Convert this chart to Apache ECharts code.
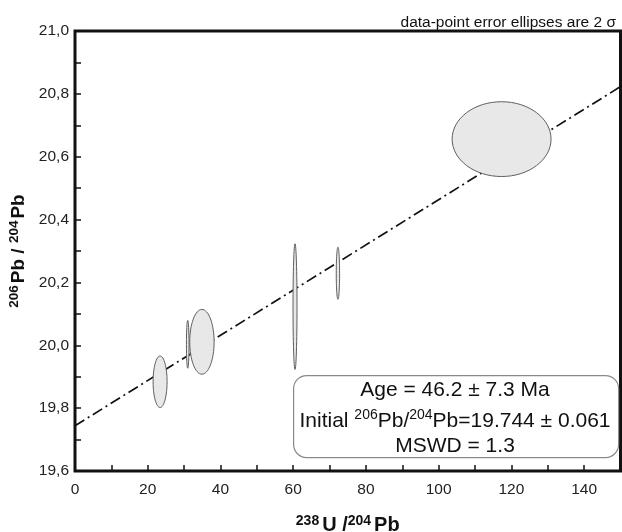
<!DOCTYPE html>
<html>
<head>
<meta charset="utf-8">
<script src="https://cdn.jsdelivr.net/npm/echarts@6/dist/echarts.min.js"></script>
<style>html,body{margin:0;padding:0;background:#fff}#c{width:622px;height:532px}</style>
</head>
<body>
<div id="c"></div>
<script>
// Error ellipses: centre (x, y) and 2-sigma semi-axes (rx, ry) in data units
var ellipseX  = [23.4, 31.0, 34.9, 60.5, 72.3, 117.3];
var ellipseY  = [19.884, 20.003, 20.011, 20.123, 20.229, 20.656];
var ellipseRx = [1.92, 0.36, 3.35, 0.55, 0.46, 13.6];
var ellipseRy = [0.082, 0.076, 0.103, 0.200, 0.083, 0.119];
// Isochron line endpoints
var lineData = [[0, 19.744], [150, 20.823]];
// Axis ranges / ticks
var xMin = 0, xMax = 150, xStep = 10, xLabelStep = 20;
var yMin = 19.6, yMax = 21.0, yStep = 0.1;

var FONT = "'Liberation Sans', Arial, Helvetica, sans-serif";

var ellipseData = ellipseX.map(function (x, i) {
  return [x, ellipseY[i], ellipseRx[i], ellipseRy[i]];
});

var chart = echarts.init(document.getElementById('c'), null, {renderer: 'canvas'});

var option = {
  backgroundColor: '#fff',
  animation: false,
  grid: {
    left: 75, right: 1.5, top: 31, bottom: 61,
    containLabel: false, outerBoundsMode: 'none',
    show: true, borderColor: '#111', borderWidth: 3, backgroundColor: 'transparent'
  },
  title: {
    text: 'data-point error ellipses are 2 σ',
    right: 1, top: 10,
    textStyle: {fontFamily: FONT, fontSize: 15.5, fontWeight: 'normal', color: '#111'}
  },
  xAxis: {
    type: 'value', min: xMin, max: xMax, interval: xStep,
    axisLine: {show: false},
    axisTick: {show: true, inside: true, length: 6, lineStyle: {color: '#111', width: 1.5}},
    splitLine: {show: false},
    axisLabel: {
      margin: 11, color: '#222', fontFamily: FONT, fontSize: 15.5,
      formatter: function (v) {
        return (Math.round(v) % xLabelStep === 0 && v < xMax) ? String(Math.round(v)) : '';
      }
    },
    name: '{sup|238}{m|U /}{sup|204}{m|Pb}',
    nameLocation: 'middle', nameGap: 43,
    nameTextStyle: {
      rich: {
        sup: {fontFamily: FONT, fontSize: 14, fontWeight: 'bold', color: '#111', verticalAlign: 'top', padding: [0, 3, 0, 0], lineHeight: 22},
        m: {fontFamily: FONT, fontSize: 20, fontWeight: 'bold', color: '#111', lineHeight: 22}
      }
    }
  },
  yAxis: {
    type: 'value', min: yMin, max: yMax, interval: yStep,
    axisLine: {show: false},
    axisTick: {show: true, inside: true, length: 6, lineStyle: {color: '#111', width: 1.5}},
    splitLine: {show: false},
    axisLabel: {
      margin: 6, color: '#222', fontFamily: FONT, fontSize: 15.5,
      formatter: function (v) {
        var k = Math.round(v * 10);
        return (k % 2 === 0) ? (k / 10).toFixed(1).replace('.', ',') : '';
      }
    },
    name: '{sup|206}{m|Pb / }{sup|204}{m|Pb}',
    nameLocation: 'middle', nameGap: 43, nameRotate: 90,
    nameTextStyle: {
      rich: {
        sup: {fontFamily: FONT, fontSize: 13.5, fontWeight: 'bold', color: '#111', verticalAlign: 'top', padding: [0, 2, 0, 0], lineHeight: 22},
        m: {fontFamily: FONT, fontSize: 19, fontWeight: 'bold', color: '#111', lineHeight: 22}
      }
    }
  },
  series: [
    {
      type: 'line', data: lineData, symbol: 'none', z: 2, silent: true,
      lineStyle: {color: '#111', width: 1.7, type: [11, 4, 2, 4]}
    },
    {
      type: 'custom', z: 3, silent: true,
      data: ellipseData,
      renderItem: function (params, api) {
        var c = api.coord([api.value(0), api.value(1)]);
        var s = api.size([api.value(2), api.value(3)]);
        return {
          type: 'ellipse',
          shape: {cx: c[0], cy: c[1], rx: s[0], ry: s[1]},
          style: {fill: '#e8e8e8', stroke: '#5e5e5e', lineWidth: 1}
        };
      }
    }
  ],
  graphic: [
    {
      type: 'rect', left: 293, top: 375, z: 10,
      shape: {width: 325, height: 82, r: 13},
      style: {fill: '#fff', stroke: '#8a8a8a', lineWidth: 1.2}
    },
    {
      type: 'text', z: 11, x: 455, y: 390,
      style: {
        text: 'Age = 46.2 ± 7.3 Ma', align: 'center', verticalAlign: 'middle',
        font: '21px ' + FONT, fill: '#111'
      }
    },
    {
      type: 'text', z: 11, x: 455, y: 421,
      style: {
        text: '{m|Initial }{s|206}{m|Pb/}{s|204}{m|Pb=19.744 ± 0.061}',
        align: 'center', verticalAlign: 'middle',
        rich: {
          m: {fontFamily: FONT, fontSize: 21, fill: '#111', lineHeight: 26},
          s: {fontFamily: FONT, fontSize: 14, fill: '#111', verticalAlign: 'top', lineHeight: 26}
        }
      }
    },
    {
      type: 'text', z: 11, x: 455, y: 446,
      style: {
        text: 'MSWD = 1.3', align: 'center', verticalAlign: 'middle',
        font: '21px ' + FONT, fill: '#111'
      }
    }
  ]
};

chart.setOption(option);
</script>
</body>
</html>
